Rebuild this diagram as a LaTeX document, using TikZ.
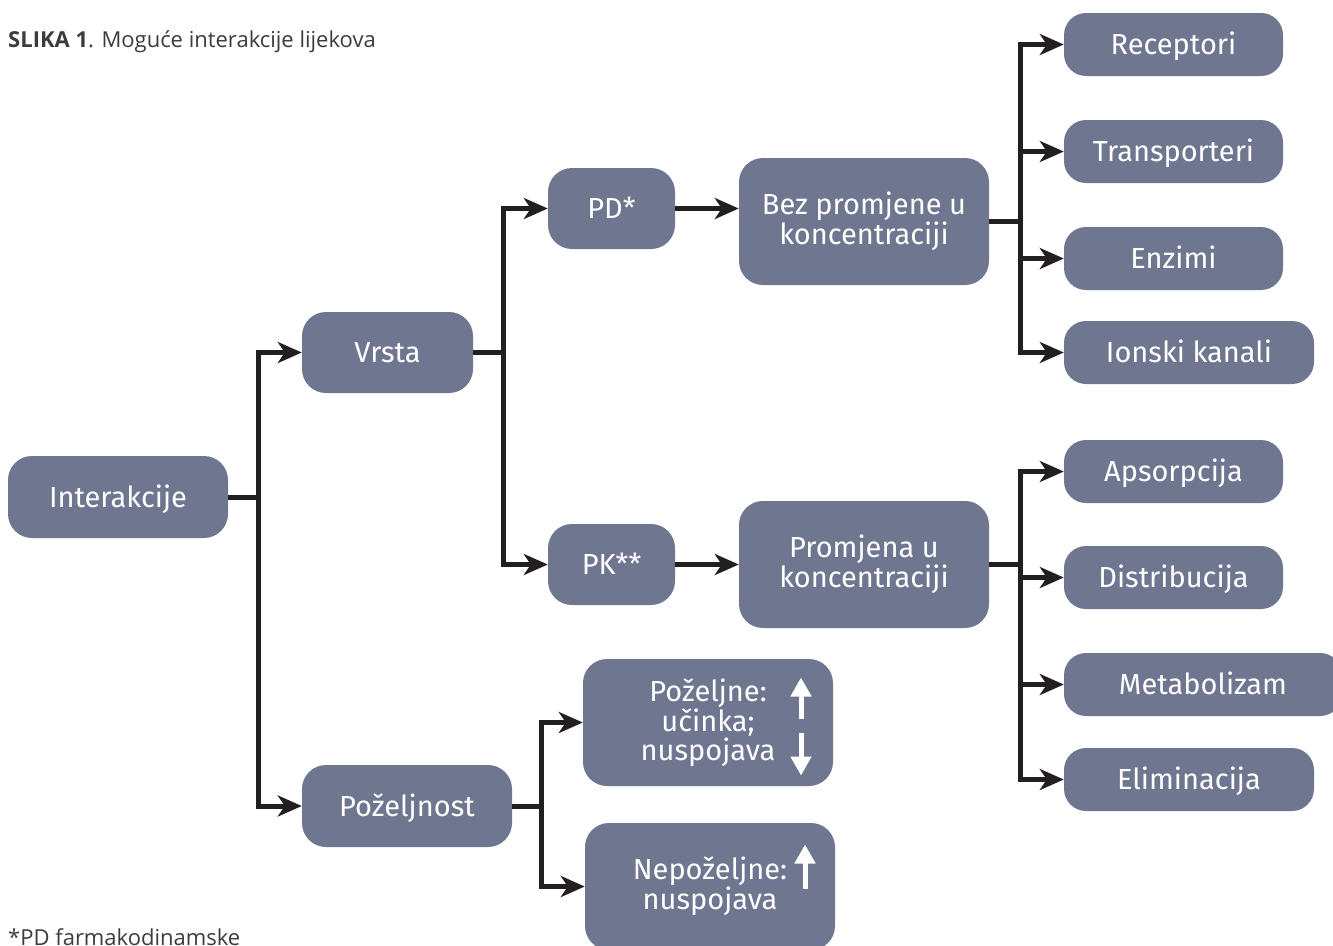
\documentclass[tikz,border=0pt]{standalone}
\usepackage{fontspec}
\setmainfont{Open Sans}
\newfontfamily\boxfont{Fira Sans}
\usetikzlibrary{arrows.meta,calc}
\definecolor{boxc}{RGB}{111,118,143}
\definecolor{linec}{RGB}{35,31,32}
\definecolor{titlec}{RGB}{60,60,60}
\begin{document}
\begin{tikzpicture}[x=1pt,y=-1pt,
 mbox/.style={rounded corners=24pt, fill=boxc, text=white, font=\boxfont\fontsize{29}{30}\selectfont, align=center, inner sep=0pt},
 box/.style={mbox, text height=27.3pt, text depth=7.3pt},
 sbox/.style={box, rounded corners=22pt, minimum height=63pt},
 conn/.style={draw=linec, line width=5pt, line join=miter, -{Stealth[length=24pt,width=21pt,inset=7pt]}},
 warrow/.style={draw=white, line width=5pt, -{Triangle[length=19pt,width=20pt]}},
 plain/.style={anchor=base west, inner sep=0pt, text=titlec, font=\fontsize{22}{26}\selectfont}]
\useasboundingbox (0,0) rectangle (1333,945);

\node[plain] (title) at (8,47) {\textbf{SLIKA 1}. Moguće interakcije lijekova};
\node[plain] (fn) at (8,945) {*PD farmakodinamske};

\node[box, minimum width=220pt, minimum height=82pt] (int) at (118,497) {Interakcije};
\node[box, minimum width=171pt, minimum height=81pt] (vrsta) at (387.5,352.5) {Vrsta};
\node[box, minimum width=210pt, minimum height=82pt] (pozn) at (407,806) {Poželjnost};
\node[box, minimum width=127pt, minimum height=81pt] (pd) at (611.5,208.5) {PD*};
\node[box, minimum width=127pt, minimum height=81pt] (pk) at (611.5,564.5) {PK**};
\node[mbox, minimum width=250pt, minimum height=127pt] (bez) at (864,221.5) {Bez promjene u\\koncentraciji};
\node[mbox, minimum width=250pt, minimum height=127pt] (prom) at (864,564.5) {Promjena u\\koncentraciji};
\node[mbox, minimum width=250pt, minimum height=127pt, font=\boxfont\fontsize{29}{28.5}\selectfont] (pozb) at (708,722.5) {Poželjne:\\učinka;\\nuspojava};
\node[mbox, minimum width=250pt, minimum height=127pt] (nep) at (710,886.5) {Nepoželjne:\\nuspojava};

\node[sbox, minimum width=219pt] (rec) at (1173.5,44.5) {Receptori};
\node[sbox, minimum width=219pt] (tra) at (1173.5,151.5) {Transporteri};
\node[sbox, minimum width=219pt] (enz) at (1173.5,258.5) {Enzimi};
\node[sbox, minimum width=250pt] (ion) at (1189,352.5) {Ionski kanali};
\node[sbox, minimum width=219pt] (aps) at (1173.5,471.5) {Apsorpcija};
\node[sbox, minimum width=219pt] (dis) at (1173.5,577.5) {Distribucija};
\node[sbox, minimum width=278pt] (met) at (1203,684.5) {Metabolizam};
\node[sbox, minimum width=250pt] (eli) at (1189,779.5) {Eliminacija};

\draw[conn] (int.east) -- ++(30,0) |- (vrsta.west);
\draw[conn] (int.east) -- ++(30,0) |- (pozn.west);
\draw[conn] (vrsta.east) -- ++(30,0) |- (pd.west);
\draw[conn] (vrsta.east) -- ++(30,0) |- (pk.west);
\draw[conn] (pd.east) -- (pd.east -| bez.west);
\draw[conn] (pk.east) -- (prom.west);
\foreach \t in {rec,tra,enz,ion} \draw[conn] (bez.east) -- ++(31,0) |- (\t.west);
\foreach \t in {aps,dis,met,eli} \draw[conn] (prom.east) -- ++(31,0) |- (\t.west);
\draw[conn] (pozn.east) -- ++(29,0) |- (pozb.west);
\draw[conn] (pozn.east) -- ++(29,0) |- (nep.west);

\draw[warrow] ($(pozb.center)+(93,-4)$) -- ($(pozb.center)+(93,-45)$);
\draw[warrow] ($(pozb.center)+(93,10)$) -- ($(pozb.center)+(93,53)$);
\draw[warrow] ($(nep.center)+(95,2)$) -- ($(nep.center)+(95,-42)$);
\end{tikzpicture}
\end{document}
